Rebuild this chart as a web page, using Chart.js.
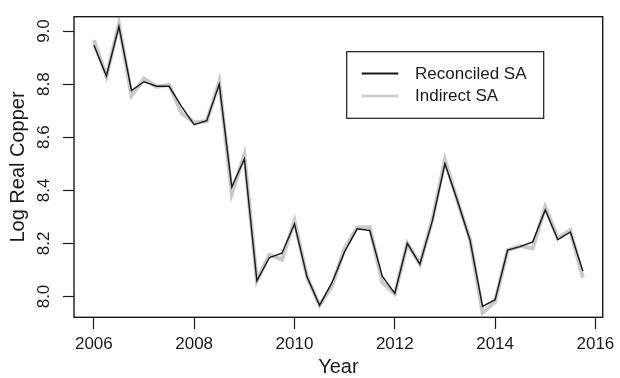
<!DOCTYPE html>
<html>
<head>
<meta charset="utf-8">
<script src="https://cdn.jsdelivr.net/npm/chart.js@4/dist/chart.umd.min.js"></script>
<style>
  html, body { margin: 0; padding: 0; background: #ffffff; }
  #wrap { width: 620px; height: 378px; }
</style>
</head>
<body>
<div id="wrap"><canvas id="c" width="620" height="378"></canvas></div>
<script>
// Quarterly observations, 2006 Q1 – 2015 Q4
const quarters = [
  2006.00, 2006.25, 2006.50, 2006.75,
  2007.00, 2007.25, 2007.50, 2007.75,
  2008.00, 2008.25, 2008.50, 2008.75,
  2009.00, 2009.25, 2009.50, 2009.75,
  2010.00, 2010.25, 2010.50, 2010.75,
  2011.00, 2011.25, 2011.50, 2011.75,
  2012.00, 2012.25, 2012.50, 2012.75,
  2013.00, 2013.25, 2013.50, 2013.75,
  2014.00, 2014.25, 2014.50, 2014.75,
  2015.00, 2015.25, 2015.50, 2015.75
];

// Log real copper price, reconciled seasonal adjustment
const reconciledSA = [
  8.947, 8.831, 9.017, 8.776,
  8.809, 8.792, 8.792, 8.715,
  8.647, 8.662, 8.800, 8.412,
  8.518, 8.059, 8.147, 8.163,
  8.273, 8.074, 7.967, 8.053,
  8.169, 8.255, 8.249, 8.077,
  8.012, 8.200, 8.122, 8.286,
  8.500, 8.360, 8.212, 7.963,
  7.988, 8.175, 8.188, 8.206,
  8.326, 8.214, 8.243, 8.096
];

// Log real copper price, indirect seasonal adjustment
const indirectSA = [
  8.966, 8.830, 9.027, 8.757,
  8.821, 8.790, 8.798, 8.690,
  8.657, 8.660, 8.809, 8.387,
  8.534, 8.060, 8.157, 8.139,
  8.285, 8.074, 7.967, 8.040,
  8.181, 8.260, 8.262, 8.053,
  8.010, 8.200, 8.122, 8.290,
  8.515, 8.360, 8.215, 7.939,
  7.980, 8.175, 8.190, 8.181,
  8.338, 8.220, 8.250, 8.071
];

const seriesNames = ['Reconciled SA', 'Indirect SA'];
const yearTicks = [2006, 2008, 2010, 2012, 2014, 2016];
const valueTicks = [8.0, 8.2, 8.4, 8.6, 8.8, 9.0];

const FONT = 'Liberation Sans, Arial, Helvetica, sans-serif';
const INK = '#1a1a1a';
const LIGHT = '#cacaca';

const toPoints = ys => quarters.map((q, i) => ({ x: q, y: ys[i] }));

// Frame around the plotting region plus the boxed key
const frameAndKey = {
  id: 'frameAndKey',
  afterDatasetsDraw(chart) {
    const { ctx, chartArea: a } = chart;
    ctx.save();
    ctx.strokeStyle = INK;
    ctx.lineWidth = 1.4;
    ctx.strokeRect(a.left, a.top, a.right - a.left, a.bottom - a.top);

    // key box
    const bx = 346.7, by = 51.7, bw = 197, bh = 66.6;
    ctx.fillStyle = '#ffffff';
    ctx.fillRect(bx, by, bw, bh);
    ctx.lineWidth = 1.2;
    ctx.strokeStyle = INK;
    ctx.strokeRect(bx, by, bw, bh);

    const rows = [73.5, 96];
    chart.data.datasets.forEach((ds, i) => {
      const y = rows[i];
      ctx.beginPath();
      ctx.strokeStyle = ds.borderColor;
      ctx.lineWidth = i === 0 ? 2 : 2.6;
      ctx.moveTo(361.7, y);
      ctx.lineTo(398.3, y);
      ctx.stroke();
      ctx.fillStyle = INK;
      ctx.font = '17px ' + FONT;
      ctx.textBaseline = 'middle';
      ctx.textAlign = 'left';
      ctx.fillText(ds.label, 415, y + 0.5);
    });
    ctx.restore();
  }
};

new Chart(document.getElementById('c'), {
  type: 'line',
  data: {
    datasets: [
      {
        label: seriesNames[0],
        data: toPoints(reconciledSA),
        borderColor: INK,
        borderWidth: 1.45,
        pointRadius: 0,
        tension: 0,
        fill: false
      },
      {
        label: seriesNames[1],
        data: toPoints(indirectSA),
        borderColor: LIGHT,
        borderWidth: 4,
        pointRadius: 0,
        tension: 0,
        fill: false
      }
    ]
  },
  options: {
    responsive: false,
    animation: false,
    devicePixelRatio: 1,
    layout: { padding: { top: 9.3, right: 13.3, left: 0, bottom: 0 } },
    plugins: {
      legend: { display: false },
      tooltip: { enabled: false }
    },
    scales: {
      x: {
        type: 'linear',
        min: 2005.604,
        max: 2016.146,
        afterBuildTicks: s => { s.ticks = yearTicks.map(v => ({ value: v })); },
        afterFit: s => { s.height = 60.7; },
        border: { display: false },
        grid: {
          drawOnChartArea: false,
          drawTicks: true,
          tickLength: 11.7,
          tickColor: INK,
          tickWidth: 1.2
        },
        ticks: {
          color: INK,
          font: { family: FONT, size: 17, lineHeight: 1.2 },
          padding: 5.5,
          maxRotation: 0,
          autoSkip: false,
          callback: v => String(v)
        },
        title: {
          display: true,
          text: 'Year',
          color: INK,
          font: { family: FONT, size: 20, lineHeight: 1.1 },
          padding: { top: 0, bottom: 0 }
        }
      },
      y: {
        type: 'linear',
        min: 7.9217,
        max: 9.054,
        afterBuildTicks: s => { s.ticks = valueTicks.map(v => ({ value: v })); },
        afterFit: s => { s.width = 74; },
        border: { display: false },
        grid: {
          drawOnChartArea: false,
          drawTicks: true,
          tickLength: 11,
          tickColor: INK,
          tickWidth: 1.2
        },
        ticks: {
          color: INK,
          font: { family: FONT, size: 17, lineHeight: 1.2 },
          padding: 6.5,
          minRotation: 90,
          maxRotation: 90,
          crossAlign: 'center',
          autoSkip: false,
          callback: v => v.toFixed(1)
        },
        title: {
          display: true,
          text: 'Log Real Copper',
          color: INK,
          font: { family: FONT, size: 20, lineHeight: 1.1 },
          padding: { top: 7, bottom: 0 }
        }
      }
    }
  },
  plugins: [frameAndKey]
});
</script>
</body>
</html>
